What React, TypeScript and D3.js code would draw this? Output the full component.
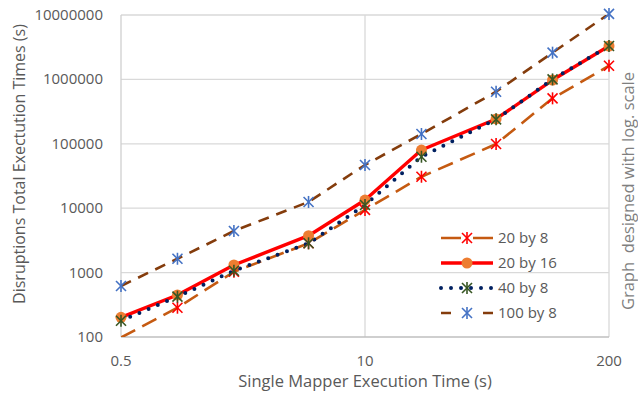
import React from 'react';
import * as d3 from 'd3';

// execution time of a single mapper (s)
const mapperTimes = [0.5, 1, 2, 5, 10, 20, 50, 100, 200];

// disruptions total execution times (s), one list per cluster setup
const by20x8 = [98, 285, 1030, 2850, 9400, 30800, 99300, 508000, 1630000];
const by20x16 = [202, 449, 1313, 3740, 13400, 80000, 243000, 977000, 3300000];
const by40x8 = [179, 423, 1070, 2850, 11200, 63000, 240000, 1000000, 3300000];
const by100x8 = [620, 1640, 4430, 12500, 46900, 142000, 644000, 2600000, 10400000];

const seriesNames = ['20 by 8', '20 by 16', '40 by 8', '100 by 8'];
const xTicks = [0.5, 10, 200];
const yTicks = [100, 1000, 10000, 100000, 1000000, 10000000];

const font = '"Open Sans", "Noto Sans", sans-serif';
const grey = '#595959';

type Style = {
  stroke: string;
  width: number;
  dash?: string;
  legendDash?: string;
  cap?: 'round' | 'butt';
  marker: 'star' | 'circle';
  markerColor: string;
};

const styles: Style[] = [
  { stroke: '#c55a11', width: 2.6, dash: '16,8', legendDash: '20,12', marker: 'star', markerColor: '#ff0000' },
  { stroke: '#ff0000', width: 3.4, marker: 'circle', markerColor: '#ed7d31' },
  { stroke: '#002060', width: 4, dash: '0,10', cap: 'round', marker: 'star', markerColor: '#375623' },
  { stroke: '#843c0c', width: 2.6, dash: '11,8', legendDash: '10,32,10', marker: 'star', markerColor: '#4472c4' },
];

function Marker({ cx, cy, s }: { cx: number; cy: number; s: Style }) {
  if (s.marker === 'circle') return <circle cx={cx} cy={cy} r={5.5} fill={s.markerColor} />;
  const r = 5;
  return (
    <g stroke={s.markerColor} strokeWidth={1.6}>
      <line x1={cx - r} y1={cy - r} x2={cx + r} y2={cy + r} />
      <line x1={cx - r} y1={cy + r} x2={cx + r} y2={cy - r} />
      <line x1={cx} y1={cy - r - 1} x2={cx} y2={cy + r + 1} />
    </g>
  );
}

export default function App() {
  const W = 638, H = 400;
  const left = 121, right = 609, top = 15, bottom = 337;

  const x = d3.scaleLog().domain([0.5, 200]).range([left, right]);
  const y = d3.scaleLog().domain([100, 10000000]).range([bottom, top]);

  const allSeries = [by20x8, by20x16, by40x8, by100x8];
  const line = d3.line<number>()
    .x((_, i) => x(mapperTimes[i]))
    .y(d => y(d));

  const legendX = 441, legendY = 238, legendStep = 25;

  return (
    <svg width={W} height={H} style={{ position: 'absolute', left: 0, top: 0, background: '#fff' }}
      fontFamily={font}>
      <defs>
        <clipPath id="plot">
          <rect x={left} y={top} width={right - left} height={bottom - top} />
        </clipPath>
      </defs>

      {/* grid */}
      {yTicks.slice(1).map(t => (
        <line key={t} x1={left} x2={right} y1={y(t)} y2={y(t)} stroke="#d9d9d9" strokeWidth={1.3} />
      ))}
      {xTicks.slice(1).map(t => (
        <line key={t} x1={x(t)} x2={x(t)} y1={top} y2={bottom} stroke="#d9d9d9" strokeWidth={1.3} />
      ))}
      <line x1={left} x2={left} y1={top} y2={bottom} stroke="#d0d0d0" strokeWidth={1.3} />
      <line x1={left} x2={right} y1={bottom} y2={bottom} stroke="#bfbfbf" strokeWidth={1.3} />

      {/* tick labels */}
      {yTicks.map(t => (
        <text key={t} x={103} y={y(t) + 5} textAnchor="end" fontSize={15} fill={grey}>{t}</text>
      ))}
      {xTicks.map(t => (
        <text key={t} x={x(t)} y={366} textAnchor="middle" fontSize={15} fill={grey}>{t}</text>
      ))}

      {/* series */}
      <g clipPath="url(#plot)">
        {allSeries.map((vals, k) => {
          const s = styles[k];
          return (
            <path key={k} d={line(vals) || ''} fill="none" stroke={s.stroke} strokeWidth={s.width}
              strokeDasharray={s.dash} strokeLinecap={s.cap || 'butt'} strokeLinejoin="round" />
          );
        })}
      </g>
      {allSeries.map((vals, k) => (
        <g key={k}>
          {vals.map((v, i) => v >= 100 ? (
            <Marker key={i} cx={x(mapperTimes[i])} cy={y(v)} s={styles[k]} />
          ) : null)}
        </g>
      ))}

      {/* legend */}
      {seriesNames.map((name, k) => {
        const s = styles[k];
        const cy = legendY + k * legendStep;
        return (
          <g key={name}>
            <line x1={legendX} x2={legendX + 52} y1={cy} y2={cy} stroke={s.stroke} strokeWidth={s.width}
              strokeDasharray={s.legendDash || s.dash}
              strokeLinecap={s.cap || 'butt'} />
            <Marker cx={legendX + 26} cy={cy} s={s} />
            <text x={legendX + 57} y={cy + 5} fontSize={15} fill={grey}>{name}</text>
          </g>
        );
      })}

      {/* axis titles */}
      <text x={365} y={387} textAnchor="middle" fontSize={16.5} fill={grey}>Single Mapper Execution Time (s)</text>
      <text transform="translate(25,164) rotate(-90)" textAnchor="middle" fontSize={16} fill={grey}>
        Disruptions Total Exectution Times (s)
      </text>
      <text transform="translate(634,191) rotate(-90)" textAnchor="middle" fontSize={16.5} fill="#7f7f7f"
        style={{ whiteSpace: 'pre' }}>
        {'Graph  designed with log. scale'}
      </text>
    </svg>
  );
}
